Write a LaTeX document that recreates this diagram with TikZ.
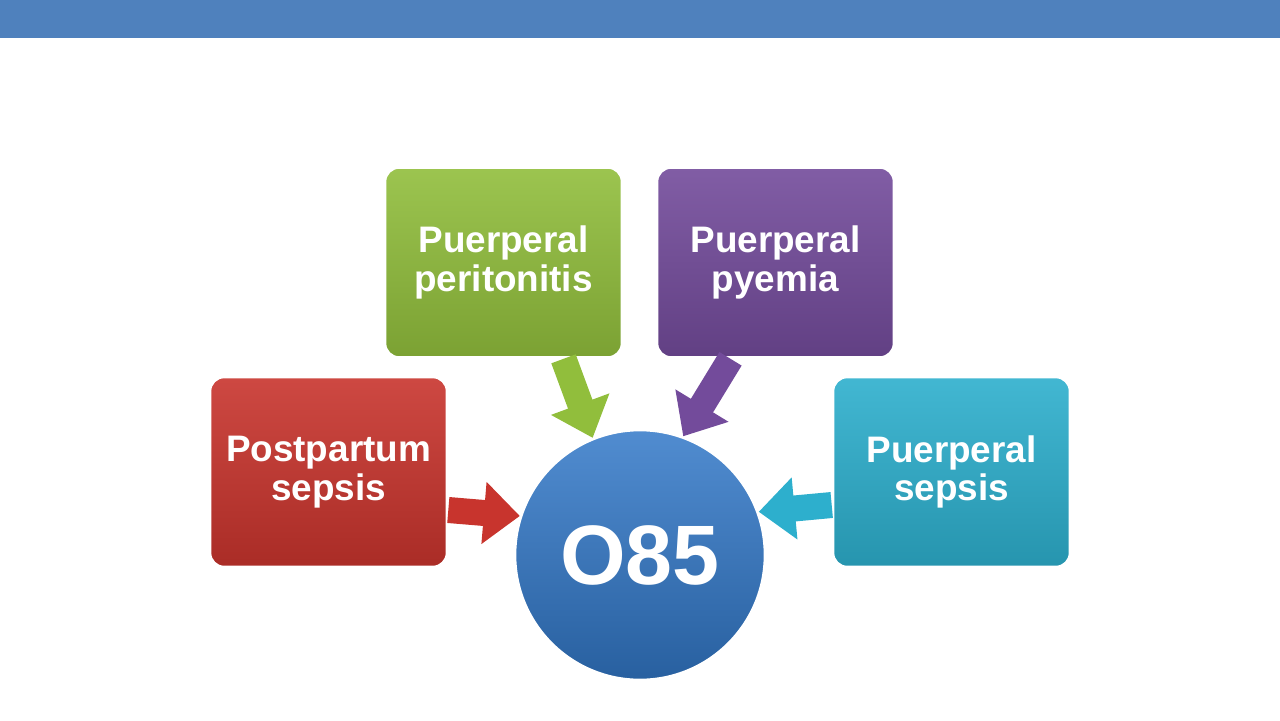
\documentclass[tikz,border=0pt]{standalone}
\usepackage{fontspec}
\setmainfont{Liberation Sans}
\usetikzlibrary{arrows.meta,calc}
\definecolor{barc}{RGB}{79,129,189}
\definecolor{redc}{RGB}{200,52,45}
\definecolor{greenc}{RGB}{145,190,60}
\definecolor{purc}{RGB}{115,75,155}
\definecolor{cyanc}{RGB}{45,175,205}
\definecolor{bluec}{RGB}{50,120,200}
\tikzset{
 box/.style={rounded corners=8pt, minimum width=237*0.02cm, minimum height=190*0.02cm, draw=white, line width=1.5pt,
   text=white, font=\bfseries\fontsize{21}{22}\selectfont, align=center},
 barrow/.style={line width=26*0.02cm, -{Triangle[width=60*0.02cm,length=36*0.02cm]}}
}
\begin{document}
\begin{tikzpicture}[x=0.02cm,y=-0.02cm]
\useasboundingbox (0,0) rectangle (1280,720);
\fill[barc] (0,0) rectangle (1280,38);
\node[box, top color=redc!90!white, bottom color=redc!85!black] (red) at (328.5,472) {Postpartum\\sepsis};
\node[box, top color=greenc!90!white, bottom color=greenc!85!black] (green) at (503.5,262.5) {Puerperal\\peritonitis};
\node[box, top color=purc!90!white, bottom color=purc!85!black] (pur) at (775.5,262.5) {Puerperal\\pyemia};
\node[box, top color=cyanc!90!white, bottom color=cyanc!85!black] (cyan) at (951.5,472) {Puerperal\\sepsis};
\node[circle, minimum size=250*0.02cm, draw=white, line width=1.5pt, top color=bluec!85!white, bottom color=bluec!80!black,
  text=white, font=\bfseries\fontsize{48}{52}\selectfont] (o) at (640,555) {O85};
\draw[barrow, redc] ($(red.east)+(0,38)$) -- (o.162);
\draw[barrow, greenc] ($(green.south)+(60,0)$) -- (o.112);
\draw[barrow, purc] ($(pur.south)+(-45,0)$) -- (o.70);
\draw[barrow, cyanc] ($(cyan.west)+(0,33)$) -- (o.20);
\end{tikzpicture}
\end{document}
